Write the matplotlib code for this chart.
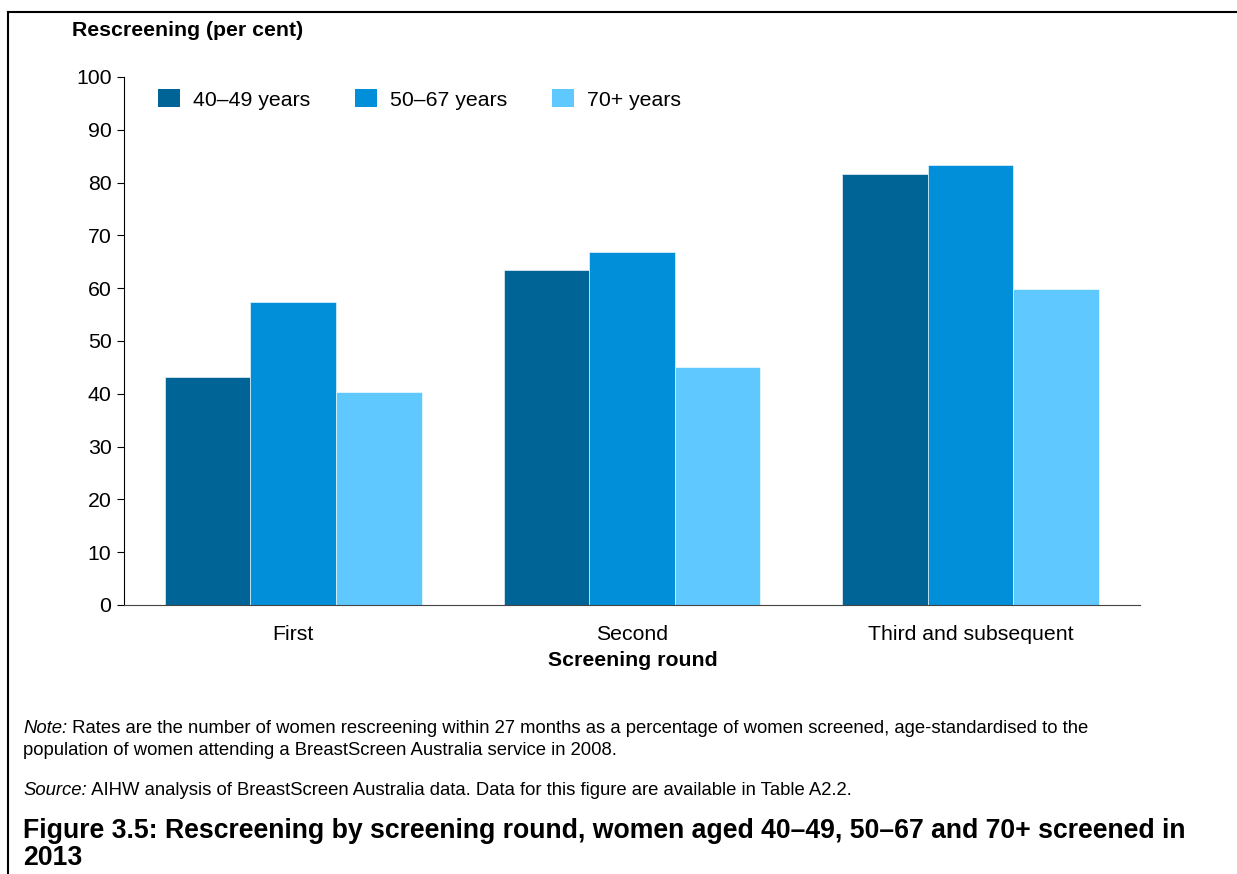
import numpy as np
import matplotlib
matplotlib.use("Agg")
import matplotlib.pyplot as plt
from matplotlib.patches import Patch

plt.rcParams['font.family'] = ['Liberation Sans', 'DejaVu Sans']

rounds = ["First", "Second", "Third and subsequent"]
groups = ["40\u201349 years", "50\u201367 years", "70+ years"]
age_40_49 = [43.1, 63.4, 81.6]
age_50_67 = [57.3, 66.9, 83.3]
age_70_plus = [40.3, 45.1, 59.8]
colors = ["#006596", "#028fd9", "#5ec8ff"]

fs = 15.3
fig = plt.figure(figsize=(12.37, 8.74), dpi=100)
ax = fig.add_axes([0.1002, 0.3078, 0.8214, 0.6041])

x = np.arange(len(rounds))
w = 0.2527
for i, (vals, c) in enumerate(zip([age_40_49, age_50_67, age_70_plus], colors)):
    ax.bar(x + (i - 1) * w, vals, width=w, color=c, edgecolor="white", linewidth=0.4)

ax.set_xlim(-0.5, 2.5)
ax.set_ylim(0, 100)
ax.set_yticks(range(0, 101, 10))
ax.set_xticks(x)
ax.set_xticklabels(rounds, fontsize=fs)
ax.tick_params(axis="y", labelsize=fs, length=5, width=0.8, direction="out", pad=4)
ax.tick_params(axis="x", length=0, pad=14.5)
for s in ["top", "right"]:
    ax.spines[s].set_visible(False)
ax.spines["left"].set_linewidth(0.8)
ax.spines["bottom"].set_linewidth(0.8)
ax.spines["bottom"].set_color("#444444")

handles = [Patch(facecolor=c, edgecolor="none") for c in colors]
ax.legend(handles, groups, loc="upper left", bbox_to_anchor=(0.128, 0.898),
          bbox_transform=fig.transFigure, ncol=3, frameon=False, fontsize=fs,
          handlelength=1.04, handleheight=0.95, handletextpad=0.61,
          columnspacing=2.1, borderaxespad=0, borderpad=0)

fig.text(0.0582, 1 - 31 / 874, "Rescreening (per cent)", fontsize=fs, fontweight="bold",
         va="center", ha="left")
fig.text(0.5117, 1 - 661 / 874, "Screening round", fontsize=fs, fontweight="bold",
         va="center", ha="center")

nfs = 13.3
t1 = fig.text(23 / 1237, 1 - 733 / 874, "Note:", fontsize=nfs, style="italic", va="baseline")
fig.text(23 / 1237, 1 - 755 / 874,
         "population of women attending a BreastScreen Australia service in 2008.",
         fontsize=nfs, va="baseline")
ax.annotate(" Rates are the number of women rescreening within 27 months as a percentage of women screened, age-standardised to the",
            xy=(1, 0), xycoords=t1, fontsize=nfs, va="bottom", ha="left",
            annotation_clip=False)
t2 = fig.text(23 / 1237, 1 - 795 / 874, "Source:", fontsize=nfs, style="italic", va="baseline")
ax.annotate(" AIHW analysis of BreastScreen Australia data. Data for this figure are available in Table A2.2.",
            xy=(1, 0), xycoords=t2, fontsize=nfs, va="bottom", ha="left",
            annotation_clip=False)

cfs = 19.2
fig.text(23 / 1237, 1 - 838 / 874,
         "Figure 3.5: Rescreening by screening round, women aged 40\u201349, 50\u201367 and 70+ screened in",
         fontsize=cfs, fontweight="bold", va="baseline")
fig.text(23 / 1237, 1 - 865 / 874, "2013", fontsize=cfs, fontweight="bold", va="baseline")

# frame around the figure (only top and left visible in the crop)
fig.add_artist(plt.Line2D([8 / 1237, 8 / 1237], [0, 1 - 12 / 874], color="black", lw=1.5,
                          transform=fig.transFigure))
fig.add_artist(plt.Line2D([8 / 1237, 1], [1 - 12 / 874, 1 - 12 / 874], color="black", lw=1.5,
                          transform=fig.transFigure))

fig.savefig("out.png", dpi=100)
